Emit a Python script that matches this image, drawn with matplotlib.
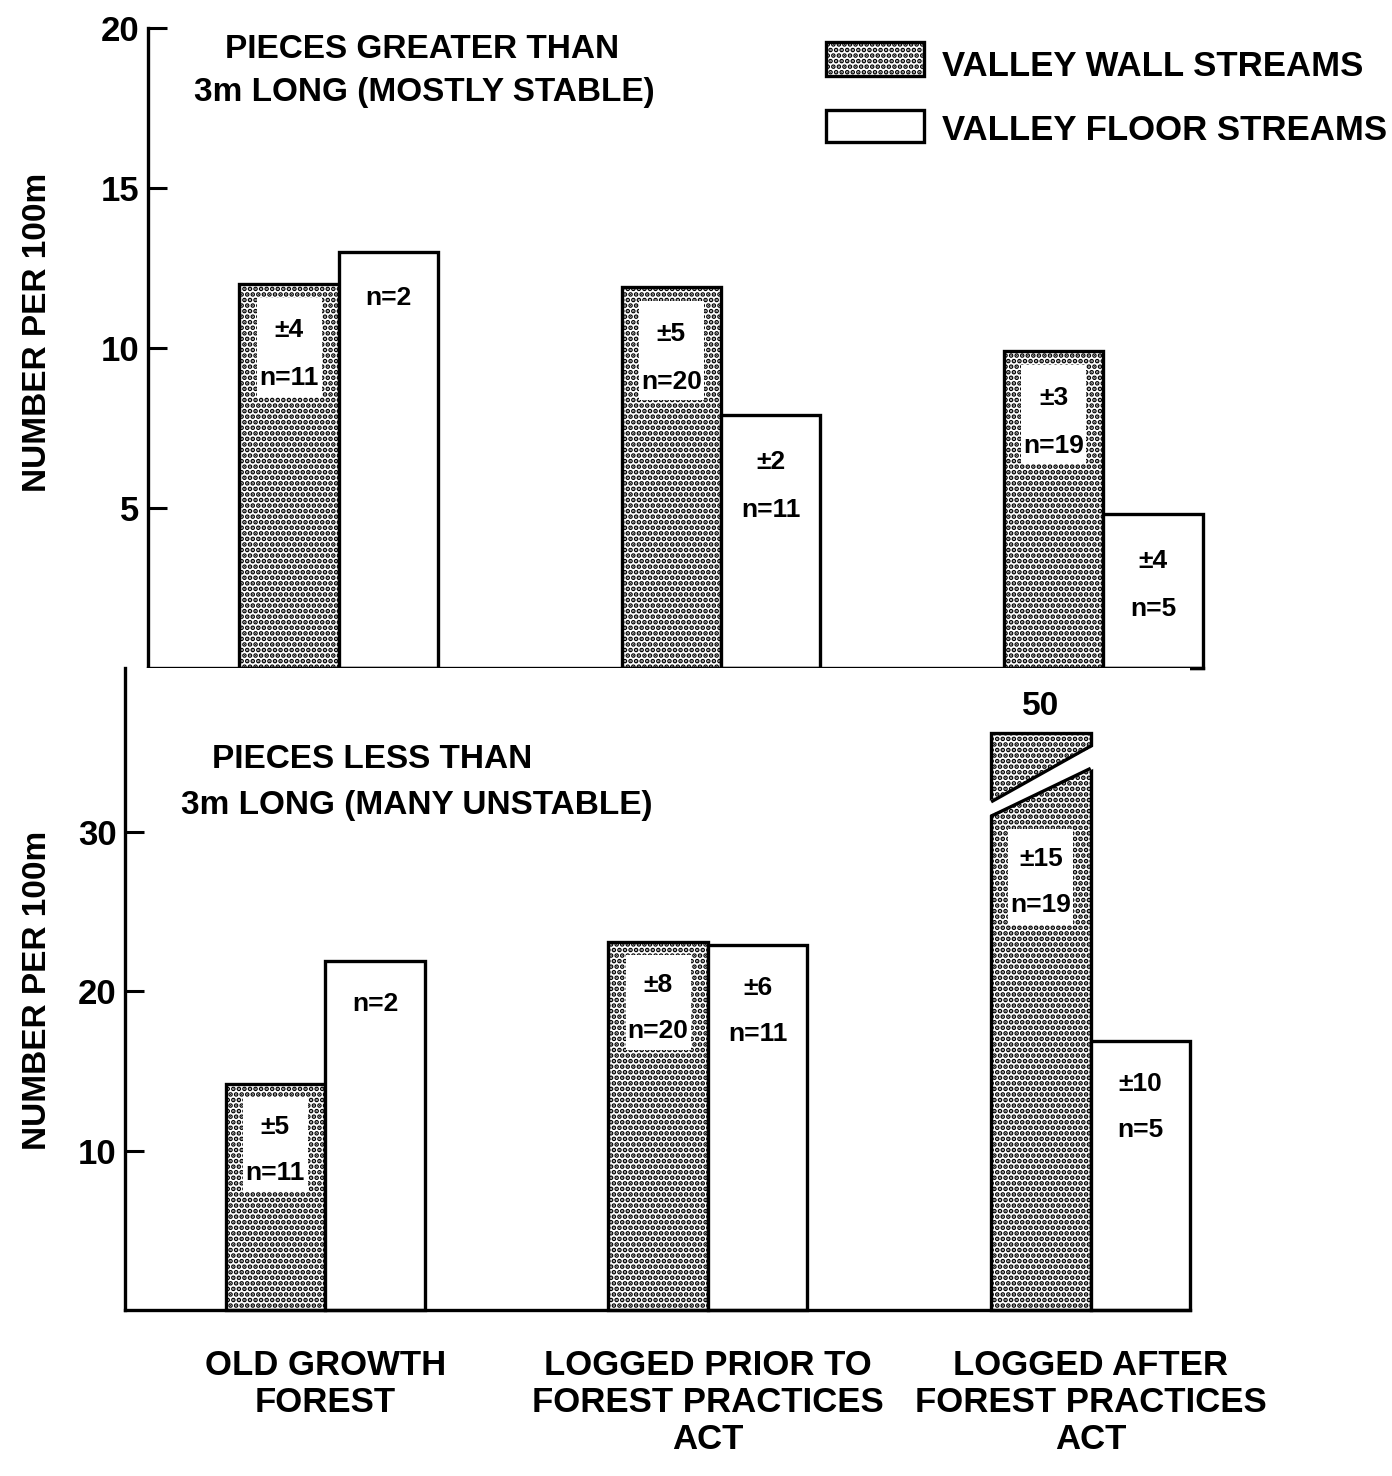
import matplotlib
matplotlib.use("Agg")
import matplotlib.pyplot as plt
from matplotlib.patches import Rectangle, Polygon

plt.rcParams['font.family'] = ['Liberation Sans', 'DejaVu Sans']
plt.rcParams['font.weight'] = 'bold'
plt.rcParams['hatch.linewidth'] = 2.4
plt.rcParams['hatch.color'] = 'black'

categories = ["OLD GROWTH\nFOREST", "LOGGED PRIOR TO\nFOREST PRACTICES\nACT",
              "LOGGED AFTER\nFOREST PRACTICES\nACT"]

# pieces > 3m long
big_wall = [12.0, 11.9, 9.9]
big_floor = [13.0, 7.9, 4.8]
big_wall_lbl = ["±4\nn=11", "±5\nn=20", "±3\nn=19"]
big_floor_lbl = ["n=2", "±2\nn=11", "±4\nn=5"]

# pieces < 3m long
small_wall = [14.2, 23.1, 50]
small_floor = [21.9, 22.9, 16.9]
small_wall_lbl = ["±5\nn=11", "±8\nn=20", "±15\nn=19"]
small_floor_lbl = ["n=2", "±6\nn=11", "±10\nn=5"]

W = 0.26
CAP = 36.2   # drawn height of broken bar
HATCH = '...'
FS = 19

fig = plt.figure(figsize=(13.92, 14.76), dpi=100)
ax1 = fig.add_axes([0.1063, 0.5474, 0.864 - 0.1063, 0.981 - 0.5474])
ax2 = fig.add_axes([0.0898, 0.1125, 0.855 - 0.0898, 0.5474 - 0.1125])

for ax in (ax1, ax2):
    for s in ('top', 'right'):
        ax.spines[s].set_visible(False)
    ax.spines['left'].set_linewidth(2.4)
    ax.spines['bottom'].set_linewidth(2.4)
    ax.tick_params(axis='y', direction='in', length=14, width=2.2, labelsize=25, pad=6)

ax1.set_xlim(-0.499, 2.26)
ax1.set_ylim(0, 20)
ax1.set_yticks([5, 10, 15, 20])
ax1.set_xticks([])

ax2.set_xlim(-0.523, 2.26)
ax2.set_ylim(0, 40.3)
ax2.set_yticks([10, 20, 30])
ax2.set_xticks(range(3))
ax2.set_xticklabels(categories, fontsize=25, linespacing=1.15)
ax2.tick_params(axis='x', length=0, pad=28)


def draw(ax, wall, floor, wlbl, flbl, off, gap, boxh, cap=None):
    xs = range(len(wall))
    hw = [min(v, cap) if cap else v for v in wall]
    b1 = ax.bar([x - W / 2 for x in xs], hw, W, facecolor='white', edgecolor='black',
                linewidth=2.4, hatch=HATCH, zorder=2)
    b2 = ax.bar([x + W / 2 for x in xs], floor, W, facecolor='white', edgecolor='black',
                linewidth=2.4, zorder=2)
    for p in list(b1) + list(b2):
        p.set_clip_on(False)
    for i, x in enumerate(xs):
        top = wall[i]
        if cap and wall[i] > cap:
            top = 31.0
        ax.add_patch(Rectangle((x - W + 0.045, top - off * 0.3 - boxh), W - 0.09, boxh,
                               facecolor='white', edgecolor='none', zorder=3))
        lines = wlbl[i].split("\n")
        for j, p in enumerate(lines):
            ax.text(x - W / 2, top - off - j * gap, p, ha='center', va='center',
                    fontsize=FS, zorder=4)
        parts = flbl[i].split("\n")
        for j, p in enumerate(parts):
            ax.text(x + W / 2, floor[i] - off - j * gap, p, ha='center', va='center',
                    fontsize=FS, zorder=4)


draw(ax1, big_wall, big_floor, big_wall_lbl, big_floor_lbl, 1.45, 1.5, 3.1)
draw(ax2, small_wall, small_floor, small_wall_lbl, small_floor_lbl, 2.7, 2.9, 6.0, cap=CAP)

# break in the tall bar
x0, x1 = 2 - W, 2.0
ax2.add_patch(Polygon([(x0 - 0.01, 31.0), (x1 + 0.01, 34.0), (x1 + 0.01, 35.4),
                       (x0 - 0.01, 31.9)], closed=True, facecolor='white',
                      edgecolor='none', zorder=3, clip_on=False))
ax2.plot([x0, x1], [31.0, 34.0], color='black', lw=2.4, zorder=4, solid_capstyle='butt')
ax2.plot([x0, x1], [31.9, 35.4], color='black', lw=2.4, zorder=4, solid_capstyle='butt')
ax2.text(2 - W / 2, CAP + 0.7, str(small_wall[2]), ha='center', va='bottom', fontsize=24)

# panel titles
fig.text(422 / 1392, 1 - 50 / 1476, "PIECES GREATER THAN", ha='center', va='center', fontsize=24)
fig.text(424 / 1392, 1 - 92 / 1476, "3m LONG (MOSTLY STABLE)", ha='center', va='center', fontsize=24)
fig.text(372 / 1392, 1 - 760 / 1476, "PIECES LESS THAN", ha='center', va='center', fontsize=24)
fig.text(417 / 1392, 1 - 805 / 1476, "3m LONG (MANY UNSTABLE)", ha='center', va='center', fontsize=24)

fig.text(38 / 1392, 1 - 332 / 1476, "NUMBER PER 100m", rotation=90, ha='center',
         va='center', fontsize=24)
fig.text(38 / 1392, 1 - 990 / 1476, "NUMBER PER 100m", rotation=90, ha='center',
         va='center', fontsize=24)

# legend
fig.patches.append(Rectangle((826 / 1392, 1 - 76 / 1476), 98 / 1392, 34 / 1476,
                             transform=fig.transFigure, facecolor='white', hatch=HATCH,
                             edgecolor='black', linewidth=2.4))
fig.patches.append(Rectangle((826 / 1392, 1 - 142 / 1476), 98 / 1392, 32 / 1476,
                             transform=fig.transFigure, facecolor='white',
                             edgecolor='black', linewidth=2.4))
fig.text(942 / 1392, 1 - 66 / 1476, "VALLEY WALL STREAMS", ha='left', va='center', fontsize=25)
fig.text(942 / 1392, 1 - 130 / 1476, "VALLEY FLOOR STREAMS", ha='left', va='center', fontsize=25)

fig.savefig("out.png", dpi=100)
